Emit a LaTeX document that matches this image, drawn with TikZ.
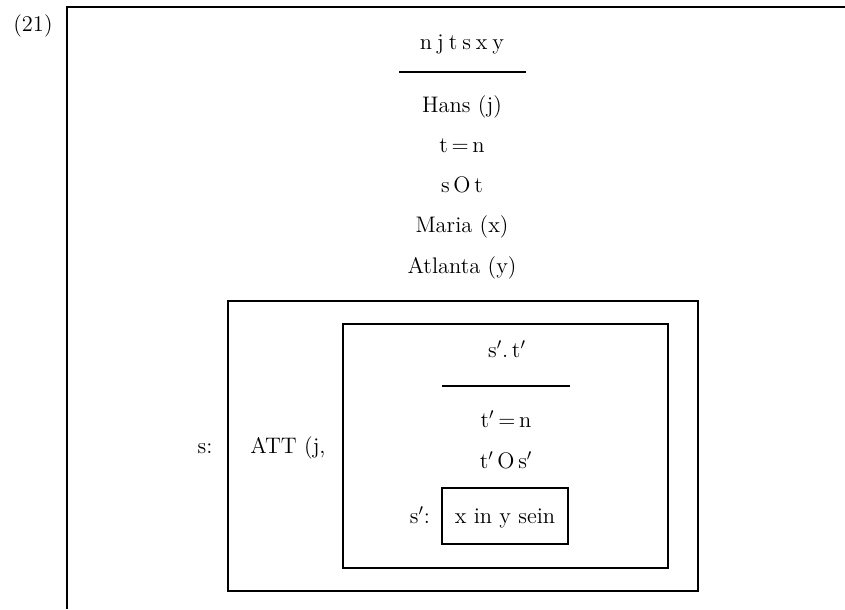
\documentclass[tikz,border=0pt]{standalone}
\usepackage{fontspec}

\tikzset{
    txt/.style={anchor=base, inner sep=0pt, font=\fontsize{12.8}{15}\selectfont},
    caja/.style={line width=0.9pt},
}
\newcommand{\sep}{\kern.22em}

\begin{document}
\begin{tikzpicture}[x=0.02cm, y=-0.02cm]
    \useasboundingbox (0,0) rectangle (845,609);

    % marco del ejemplo
    \node[txt] (num) at (33,31) {(21)};
    \draw[caja] (845,7) -- (67,7) -- (67,609);

    % universo y condiciones
    \node[txt] (vars) at (462,49) {n\sep j\sep t\sep s\sep x\sep y};
    \draw[caja] (399,72) -- (526,72);
    \node[txt] (hans) at (462,112) {Hans (j)};
    \node[txt] (tn) at (462,152) {t\,=\,n};
    \node[txt] (sot) at (462,192) {s\,O\,t};
    \node[txt] (maria) at (462,232) {Maria (x)};
    \node[txt] (atlanta) at (462,273) {Atlanta (y)};

    % caja de s
    \draw[caja] (228,301) rectangle (698,591);
    \node[txt] (slab) at (205,453) {s:};
    \node[txt] (att) at (288,453) {ATT (j,};

    % caja interior
    \draw[caja] (343,324) rectangle (668,568);
    \node[txt] (vars2) at (507,357) {s$'$.\,t$'$};
    \draw[caja] (442,386) -- (570,386);
    \node[txt] (tn2) at (506,427) {t$'$\,=\,n};
    \node[txt] (tos2) at (506,468) {t$'$\,O\,s$'$};

    % caja de s'
    \node[txt] (slab2) at (420,523) {s$'$:};
    \draw[caja] (442,488) rectangle (568,544);
    \node[txt] (sein) at (505,523) {x in y sein};

\end{tikzpicture}
\end{document}
